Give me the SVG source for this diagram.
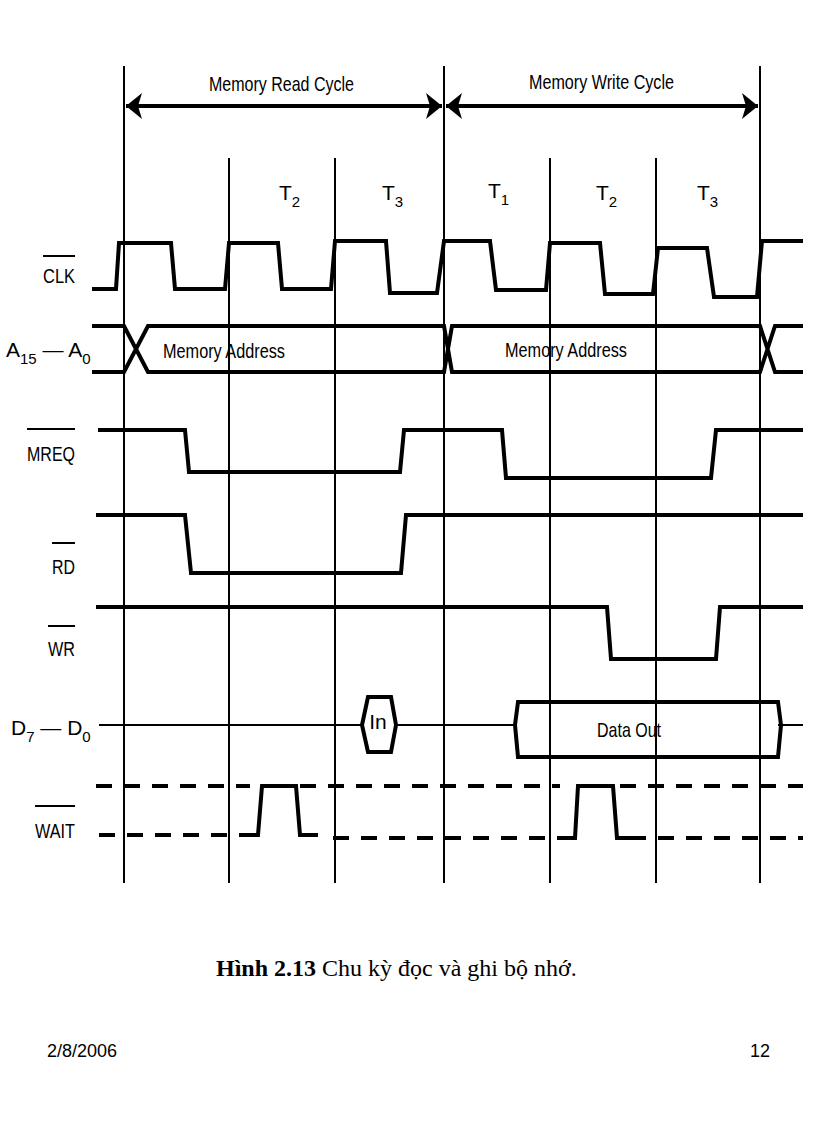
<svg xmlns="http://www.w3.org/2000/svg" width="816" height="1123" viewBox="0 0 816 1123">
<style>
.grid{stroke:#000;stroke-width:2;fill:none}
.sig{stroke:#000;stroke-width:4;fill:none;stroke-linejoin:miter}
.dash{stroke:#000;stroke-width:4;fill:none;stroke-dasharray:16,12}
.t{font-family:"Liberation Sans",Arial,sans-serif;font-size:21px;fill:#000}
.lab{font-family:"Liberation Sans",Arial,sans-serif;font-size:21px;fill:#000}
.ov{stroke:#000;stroke-width:2}
</style>
<defs>
<marker id="ah" markerWidth="16" markerHeight="26" refX="16" refY="13" orient="auto-start-reverse" markerUnits="userSpaceOnUse"><path d="M0,0 L16,13 L0,26 L4,13 Z" fill="#000"/></marker>
</defs>
<rect width="816" height="1123" fill="#fff"/>
<g id="grid">
<path class="grid" d="M124,66V883M444,66V883M760,66V883M229,158V883M335,158V883M550,158V883M656,158V883"/>
</g>
<g id="connectors">
<line x1="126" y1="106" x2="442" y2="106" stroke="#000" stroke-width="4" marker-start="url(#ah)" marker-end="url(#ah)"/>
<line x1="446" y1="106" x2="758" y2="106" stroke="#000" stroke-width="4" marker-start="url(#ah)" marker-end="url(#ah)"/>
</g>
<g id="titles">
<text class="t" x="209" y="91" textLength="145" lengthAdjust="spacingAndGlyphs">Memory Read Cycle</text>
<text class="t" x="529" y="89" textLength="145" lengthAdjust="spacingAndGlyphs">Memory Write Cycle</text>
<text class="t" x="279" y="200">T<tspan font-size="15" dy="7">2</tspan></text>
<text class="t" x="382" y="200">T<tspan font-size="15" dy="7">3</tspan></text>
<text class="t" x="488" y="198">T<tspan font-size="15" dy="7">1</tspan></text>
<text class="t" x="596" y="200">T<tspan font-size="15" dy="7">2</tspan></text>
<text class="t" x="697" y="200">T<tspan font-size="15" dy="7">3</tspan></text>
</g>
<g id="clk">
<text class="lab" x="43" y="283" textLength="32" lengthAdjust="spacingAndGlyphs">CLK</text><line class="ov" x1="43" y1="256" x2="75" y2="256"/>
<path class="sig" d="M92,289H116L119,243H171L175,289H225L229,243H278L282,289H331L335,241H386L390,293H437L444,241H490L496,290H546L550,243H600L605,294H653L658,248H707L714,297H757L762,241H803"/>
</g>
<g id="addr">
<text class="lab" x="6" y="357">A<tspan font-size="15" dy="7">15</tspan><tspan dy="-7"> — A</tspan><tspan font-size="15" dy="7">0</tspan></text>
<path class="sig" d="M92,326H124L148,372H444L452,326H760L775,372H803M92,372H124L148,326H444L452,372H760L775,326H803"/>
<text class="t" x="163" y="358" textLength="122" lengthAdjust="spacingAndGlyphs">Memory Address</text>
<text class="t" x="505" y="357" textLength="122" lengthAdjust="spacingAndGlyphs">Memory Address</text>
</g>
<g id="mreq">
<text class="lab" x="27" y="461" textLength="48" lengthAdjust="spacingAndGlyphs">MREQ</text><line class="ov" x1="27" y1="429" x2="75" y2="429"/>
<path class="sig" d="M98,430H185L189,472H400L404,430H502L506,478H711L716,430H803"/>
</g>
<g id="rd">
<text class="lab" x="52" y="574" textLength="23" lengthAdjust="spacingAndGlyphs">RD</text><line class="ov" x1="52" y1="543" x2="75" y2="543"/>
<path class="sig" d="M96,515H185L191,573H401L406,515H803"/>
</g>
<g id="wr">
<text class="lab" x="48" y="656" textLength="27" lengthAdjust="spacingAndGlyphs">WR</text><line class="ov" x1="48" y1="626" x2="75" y2="626"/>
<path class="sig" d="M96,607H607L611,659H716L720,607H803"/>
</g>
<g id="data">
<text class="lab" x="11" y="735">D<tspan font-size="15" dy="7">7</tspan><tspan dy="-7"> — D</tspan><tspan font-size="15" dy="7">0</tspan></text>
<path class="grid" d="M99,725H362M396,725H515M778,725H803" stroke-width="3"/>
<path class="sig" d="M362,725L368,697H391L396,725L391,752H368Z" stroke-width="3"/>
<text class="t" x="378" y="729" text-anchor="middle">In</text>
<path class="sig" d="M515,725L518,702H778L781,725L778,757H518Z" stroke-width="3"/>
<text class="t" x="597" y="737" textLength="64" lengthAdjust="spacingAndGlyphs">Data Out</text>
</g>
<g id="wait">
<text class="lab" x="35" y="838" textLength="40" lengthAdjust="spacingAndGlyphs">WAIT</text><line class="ov" x1="35" y1="806" x2="75" y2="806"/>
<path class="dash" d="M96,786H250M300,786H560M620,786H803"/>
<path class="dash" d="M99,835H245M333,838H560M630,838H803"/>
<path class="sig" d="M245,835H258L262,786H296L300,835H318"/>
<path class="sig" d="M560,838H575L578,786H613L617,838H630"/>
</g>
<g id="caption">
<text x="216" y="976" font-family="'Liberation Serif','Times New Roman',serif" font-size="24"><tspan font-weight="bold">Hình 2.13</tspan> Chu kỳ đọc và ghi bộ nhớ.</text>
<text x="47" y="1057" font-family="'Liberation Sans',Arial,sans-serif" font-size="18">2/8/2006</text>
<text x="750" y="1057" font-family="'Liberation Sans',Arial,sans-serif" font-size="18">12</text>
</g>
</svg>
